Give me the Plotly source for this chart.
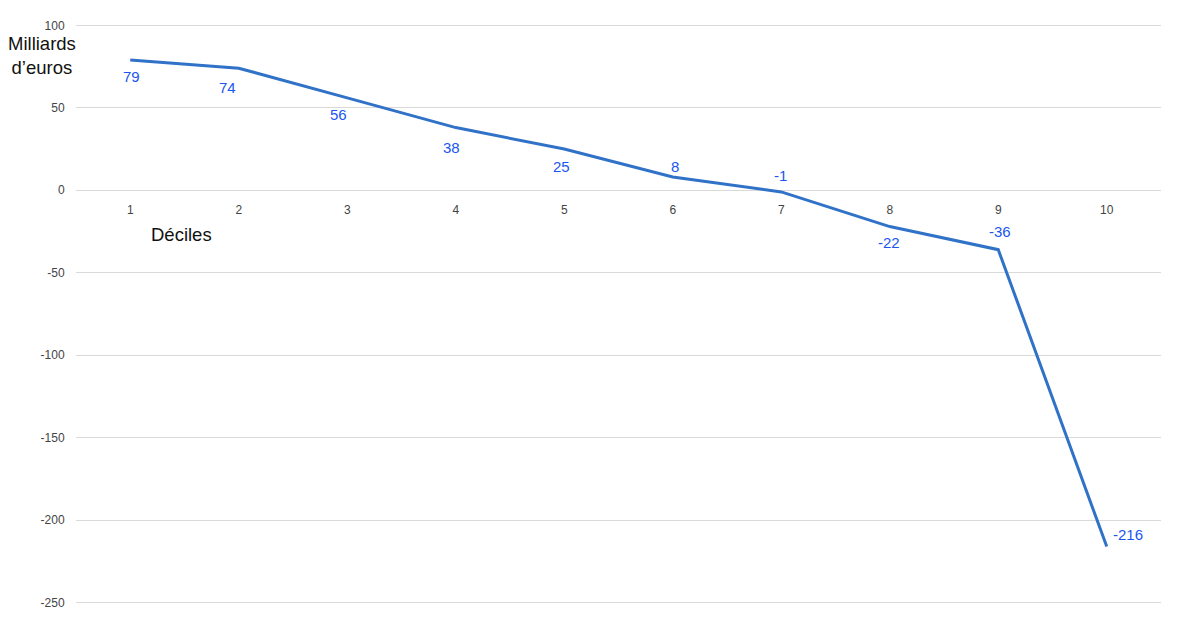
import plotly.graph_objects as go

deciles = [1, 2, 3, 4, 5, 6, 7, 8, 9, 10]
values = [79, 74, 56, 38, 25, 8, -1, -22, -36, -216]
y_ticks = [100, 50, 0, -50, -100, -150, -200, -250]

# label offsets in pixels (styling only)
label_dx = [1, -11, -9, -4, -3, 2, -1, -1, 2, 21]
label_dy = [-17, -19, -17, -20, -17, 11, 16, -16, 18, 12]

y_min, y_max = -252, 102

fig = go.Figure()
fig.add_trace(go.Scatter(
    x=deciles, y=values, mode="lines",
    line=dict(color="#3072c8", width=3),
    hoverinfo="x+y", showlegend=False,
))

for x, v, dx, dy in zip(deciles, values, label_dx, label_dy):
    fig.add_annotation(x=x, y=v, text=str(v), showarrow=False,
                       xshift=dx, yshift=dy,
                       font=dict(family="Liberation Sans, Arial", size=15, color="#1a56f0"))

fig.add_annotation(xref="paper", yref="paper", x=-0.031, y=0.985,
                   text="Milliards<br>d\u2019euros", showarrow=False, align="center",
                   xanchor="center", yanchor="top",
                   font=dict(family="Liberation Sans, Arial", size=18.5, color="#111111"))
fig.add_annotation(xref="x", yref="y", x=1.47, y=-27, text="Déciles", showarrow=False,
                   font=dict(family="Liberation Sans, Arial", size=18.5, color="#111111"))

fig.update_layout(
    width=1200, height=630,
    margin=dict(l=68, r=47, t=14, b=32, autoexpand=False),
    plot_bgcolor="white", paper_bgcolor="white",
    xaxis=dict(
        range=[0.5, 10.5], tickmode="array", tickvals=deciles,
        ticktext=[str(d) for d in deciles],
        showgrid=False, zeroline=False, showline=False,
        anchor="free", position=(0 - y_min) / (y_max - y_min),
        ticks="outside", ticklen=8, tickcolor="rgba(0,0,0,0)",
        tickfont=dict(family="Liberation Sans, Arial", size=12, color="#444444"),
    ),
    yaxis=dict(
        range=[y_min, y_max], tickmode="array", tickvals=y_ticks,
        ticktext=[str(t) for t in y_ticks],
        showgrid=True, gridcolor="#d9d9d9", gridwidth=1,
        zeroline=False, showline=False,
        ticks="outside", ticklen=8, tickcolor="rgba(0,0,0,0)",
        tickfont=dict(family="Liberation Sans, Arial", size=12, color="#444444"),
    ),
)

fig.write_html("out.html")
